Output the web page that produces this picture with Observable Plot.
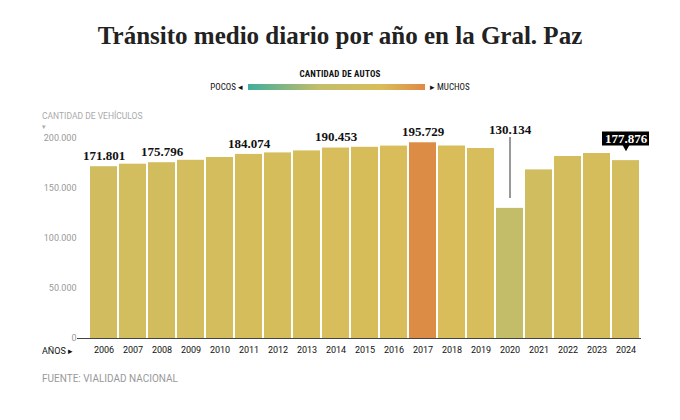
<!DOCTYPE html>
<html><head><meta charset="utf-8">
<script src="https://cdn.jsdelivr.net/npm/d3@7"></script>
<script src="https://cdn.jsdelivr.net/npm/@observablehq/plot@0.6"></script>
<style>
body{margin:0;width:680px;background:#fff;font-family:Roboto,sans-serif}
h1{font-family:"Liberation Serif",serif;font-weight:bold;font-size:25px;color:#222;text-align:center;margin:22px 0 0 0;height:32px}
.lg{text-align:center;font-family:"Roboto Condensed",Roboto,sans-serif;font-size:9px;color:#111}
.cap{font-size:10px;color:#999;margin:10px 0 0 42px}
</style></head><body>
<h1>Tránsito medio diario por año en la Gral. Paz</h1>
<div class="lg" style="margin-top:15px;font-weight:bold;letter-spacing:0.2px">CANTIDAD DE AUTOS</div>
<div class="lg" style="margin-top:3px;display:flex;justify-content:center;align-items:center;gap:5px">
<span>POCOS ◂</span><span style="display:inline-block;width:177px;height:6px;background:linear-gradient(90deg,#3fae9c,#c3bd6a 40%,#d8bd5a 75%,#e08a45)"></span><span>▸ MUCHOS</span></div>
<div id="c" style="margin-top:16px"></div>
<div class="cap">FUENTE: VIALIDAD NACIONAL</div>
<script>
const years=["2006","2007","2008","2009","2010","2011","2012","2013","2014","2015","2016","2017","2018","2019","2020","2021","2022","2023","2024"];
const values=[171801,174300,175796,178200,181000,184074,185600,187600,190453,191200,192400,195729,192500,190000,130134,168600,182000,185000,177876];
const labeled=["2006","2008","2011","2014","2017"];
const yTicks=[0,50000,100000,150000,200000];
const fmt=d3.formatLocale({decimal:",",thousands:".",grouping:[3]}).format(",d");
const data=years.map((y,i)=>({year:y,value:values[i]}));
const lab=data.filter(d=>labeled.includes(d.year));
const d20=data.filter(d=>d.year==="2020");
const d24=data.filter(d=>d.year==="2024");
const svg=Plot.plot({
  width:680,height:255,marginTop:30,marginBottom:25,marginLeft:87,marginRight:39,
  style:{fontFamily:"Roboto,sans-serif",fontSize:"9px"},
  x:{domain:years,padding:0.07,label:null,tickSize:0,tickPadding:8},
  y:{domain:[0,200000],ticks:yTicks,tickFormat:fmt,label:null,tickSize:0,tickPadding:7},
  color:{type:"linear",domain:[0,130134,193000,195729],range:["#3fae9c","#c3bd6a","#d8bd5a","#dd8c45"]},
  marks:[
    Plot.ruleY(yTicks.slice(1),{x1:years[0],x2:years[18],stroke:"#e6e6e6",insetLeft:-24,insetRight:-14}),
    Plot.axisY({ticks:yTicks,tickFormat:fmt,tickSize:0,dx:-2,fill:"#999",textAnchor:"end",label:null}),
    Plot.axisX({tickSize:0,tickPadding:8,fill:"#111",label:null}),
    Plot.barY(data,{x:"year",y:"value",fill:d=>d.value}),
    Plot.ruleY([0],{stroke:"#444",strokeWidth:1.2,insetLeft:-10}),
    Plot.text(lab,{x:"year",y:"value",text:d=>fmt(d.value),dy:-11,fontFamily:"Liberation Serif",fontWeight:"bold",fontSize:13,fill:"#111"}),
    Plot.ruleX(d20,{x:"year",y1:140000,y2:201000,stroke:"#333"}),
    Plot.text(d20,{x:"year",y:200000,text:d=>fmt(d.value),dy:-9,fontFamily:"Liberation Serif",fontWeight:"bold",fontSize:13,fill:"#111"}),
    Plot.barY(d24,{x:"year",y1:192500,y2:206500,fill:"#000",insetLeft:-10,insetRight:-10}),
    Plot.dot(d24,{x:"year",y:191600,symbol:"triangle2",r:3.5,rotate:180,fill:"#000"}),
    Plot.text(d24,{x:"year",y:199500,text:d=>fmt(d.value),fontFamily:"Liberation Serif",fontWeight:"bold",fontSize:13,fill:"#fff"})
  ]
});
const s=d3.select(svg);
s.append("text").attr("x",42).attr("y",11).attr("text-anchor","start").attr("fill","#aaa").attr("font-size",8.5).text("CANTIDAD DE VEHÍCULOS");
s.append("text").attr("x",42).attr("y",21).attr("text-anchor","start").attr("fill","#aaa").attr("font-size",7).text("▾");
s.append("text").attr("x",42).attr("y",246).attr("text-anchor","start").attr("fill","#111").attr("font-size",9).text("AÑOS ▸");
document.getElementById("c").appendChild(svg);
</script></body></html>
